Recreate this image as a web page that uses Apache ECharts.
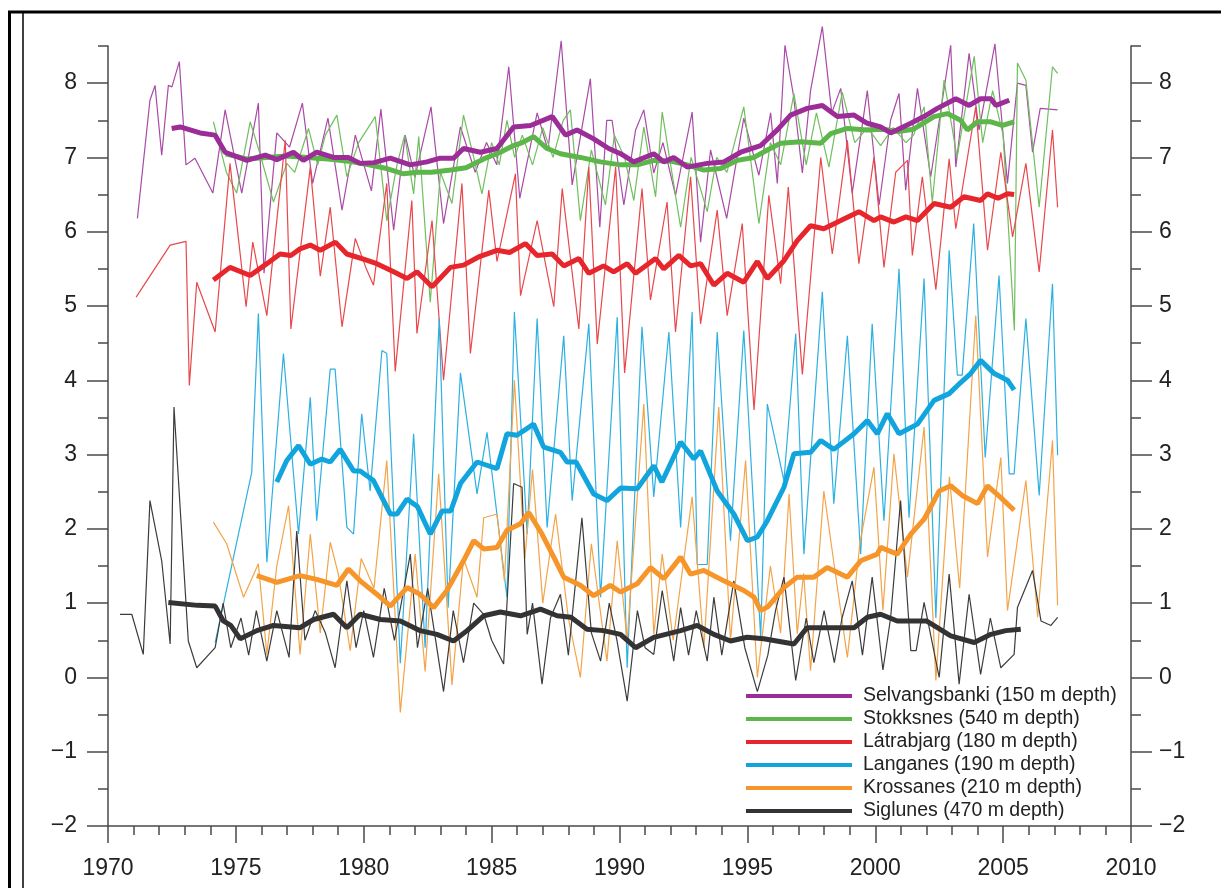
<!DOCTYPE html>
<html>
<head>
<meta charset="utf-8">
<script src="https://cdn.jsdelivr.net/npm/echarts@6/dist/echarts.min.js"></script>
<style>
html,body{margin:0;padding:0;background:#fff;}
#chart{width:1221px;height:888px;}
</style>
</head>
<body>
<div id="chart"></div>
<script>
// ---- tick labels / ranges ----
const xTicks = [1970, 1975, 1980, 1985, 1990, 1995, 2000, 2005, 2010];
const yMajorTicks = [-2, -1, 0, 1, 2, 3, 4, 5, 6, 7, 8];
const yMinorTicks = [-2,-1.5,-1,-0.5,0,0.5,1,1.5,2,2.5,3,3.5,4,4.5,5,5.5,6,6.5,7,7.5,8,8.5];

// ---- series names ----
const names = [
  'Selvangsbanki (150 m depth)',
  'Stokksnes (540 m depth)',
  'Látrabjarg (180 m depth)',
  'Langanes (190 m depth)',
  'Krossanes (210 m depth)',
  'Siglunes (470 m depth)'
];

// ---- Selvangsbanki ----
const selvThin = [[1971.15,6.18],[1971.64,7.77],[1971.84,7.97],[1972.1,7.03],[1972.36,7.97],[1972.5,7.95],[1972.79,8.29],[1973.05,6.9],[1973.4,6.99],[1974.1,6.52],[1974.58,7.64],[1975.23,6.52],[1975.88,7.73],[1976.1,5.44],[1976.6,7.33],[1977.1,7.14],[1977.6,7.73],[1978.0,6.65],[1978.6,7.53],[1979.15,6.29],[1979.67,7.3],[1980.3,6.55],[1980.67,7.65],[1981.17,6.02],[1981.62,7.3],[1982.0,6.73],[1982.63,7.68],[1983.12,6.11],[1983.78,7.41],[1984.36,6.8],[1984.8,7.2],[1985.2,6.9],[1985.67,8.22],[1986.1,6.45],[1986.78,7.6],[1987.2,7.1],[1987.72,8.57],[1988.15,6.63],[1988.86,8.06],[1989.23,6.06],[1989.5,7.5],[1989.71,7.5],[1990.17,6.36],[1990.63,7.37],[1990.95,7.64],[1991.34,6.79],[1991.7,7.2],[1992.19,6.49],[1992.84,7.61],[1993.17,5.86],[1993.56,7.1],[1994.19,6.18],[1994.86,7.53],[1995.45,6.76],[1995.91,7.6],[1996.17,6.65],[1996.47,8.51],[1996.8,7.84],[1997.15,6.79],[1997.47,7.9],[1997.93,8.76],[1998.3,7.6],[1998.65,7.93],[1999.1,6.52],[1999.69,7.9],[2000.15,6.36],[2000.6,7.5],[2000.93,7.86],[2001.19,6.56],[2001.65,7.93],[2002.17,6.74],[2002.95,8.51],[2003.15,6.87],[2003.67,8.4],[2004.06,7.37],[2004.68,8.53],[2005.17,6.65],[2005.56,8.0],[2005.89,7.97],[2006.15,7.07],[2006.45,7.66],[2007.13,7.64]];
const selvSmooth = [[1972.49,7.39],[1972.82,7.41],[1973.6,7.33],[1974.19,7.3],[1974.58,7.07],[1975.43,6.96],[1976.15,7.03],[1976.6,6.97],[1977.25,7.07],[1977.64,6.96],[1978.16,7.07],[1978.82,7.0],[1979.4,7.0],[1979.86,6.92],[1980.4,6.93],[1981.04,6.99],[1981.82,6.9],[1982.47,6.94],[1982.99,6.99],[1983.51,6.99],[1983.9,7.12],[1984.56,7.07],[1985.21,7.12],[1985.86,7.41],[1986.52,7.43],[1987.37,7.55],[1987.89,7.3],[1988.34,7.37],[1988.99,7.25],[1989.58,7.12],[1990.04,7.05],[1990.56,6.94],[1991.34,7.05],[1991.73,6.94],[1992.12,7.0],[1992.65,6.87],[1993.43,6.92],[1994.08,6.94],[1994.74,7.07],[1995.52,7.16],[1996.17,7.37],[1996.69,7.57],[1997.34,7.66],[1997.93,7.7],[1998.52,7.55],[1999.17,7.57],[1999.69,7.46],[2000.21,7.41],[2000.6,7.33],[2001.39,7.46],[2001.9,7.55],[2002.43,7.66],[2003.15,7.79],[2003.67,7.7],[2004.12,7.79],[2004.52,7.79],[2004.72,7.7],[2005.24,7.77]];

// ---- Stokksnes ----
const stokThin = [[1974.12,7.48],[1974.64,6.79],[1975.03,6.52],[1975.56,7.48],[1975.9,7.1],[1976.47,6.4],[1976.99,6.92],[1977.3,6.8],[1977.84,7.39],[1978.2,6.9],[1978.5,7.3],[1978.95,7.57],[1979.34,6.74],[1979.8,7.2],[1980.12,7.37],[1980.45,7.55],[1980.9,6.15],[1981.3,6.9],[1981.6,7.3],[1981.95,6.51],[1982.15,7.28],[1982.6,5.05],[1983.0,6.8],[1983.45,6.38],[1983.9,7.57],[1984.3,7.0],[1984.62,6.51],[1985.0,7.2],[1985.3,6.9],[1985.6,7.5],[1985.9,7.0],[1986.2,7.3],[1986.6,6.9],[1987.0,7.4],[1987.4,7.0],[1987.8,7.5],[1988.08,7.64],[1988.47,6.15],[1988.9,7.1],[1989.45,6.36],[1989.8,7.3],[1990.2,7.0],[1990.56,6.42],[1990.95,7.41],[1991.41,6.47],[1991.67,7.61],[1992.39,6.06],[1992.8,7.0],[1993.43,6.27],[1993.8,7.0],[1994.2,6.8],[1994.86,7.68],[1995.45,6.11],[1995.9,7.2],[1996.3,6.9],[1996.82,7.86],[1997.3,6.9],[1997.7,7.6],[1998.19,6.87],[1998.71,7.88],[1999.2,7.2],[1999.7,7.4],[2000.21,7.16],[2000.7,7.4],[2001.2,7.2],[2001.5,7.3],[2001.91,7.68],[2002.23,6.4],[2002.69,8.04],[2003.2,7.0],[2003.87,8.36],[2004.2,7.2],[2004.59,7.9],[2005.0,7.3],[2005.44,4.67],[2005.56,8.27],[2005.89,8.04],[2006.41,6.33],[2006.93,8.22],[2007.13,8.13]];
const stokSmooth = [[1974.6,7.05],[1975.4,6.98],[1976.2,7.0],[1977.0,7.02],[1977.8,7.0],[1978.6,6.98],[1979.4,6.95],[1980.2,6.9],[1980.9,6.85],[1981.56,6.78],[1982.1,6.8],[1982.65,6.8],[1983.4,6.83],[1984.0,6.86],[1984.69,6.98],[1985.34,7.07],[1985.86,7.16],[1986.2,7.2],[1986.64,7.28],[1987.17,7.12],[1987.69,7.05],[1988.47,7.0],[1989.26,6.94],[1990.04,6.9],[1990.7,6.9],[1991.34,6.96],[1992.0,6.95],[1992.65,6.9],[1993.3,6.83],[1993.95,6.85],[1994.6,6.96],[1995.26,7.0],[1995.78,7.1],[1996.3,7.19],[1997.08,7.21],[1997.87,7.19],[1998.26,7.32],[1998.91,7.39],[1999.69,7.37],[2000.3,7.38],[2000.9,7.35],[2001.5,7.38],[2002.3,7.55],[2002.82,7.59],[2003.34,7.5],[2003.6,7.37],[2004.0,7.48],[2004.52,7.48],[2004.97,7.43],[2005.43,7.48]];

// ---- Látrabjarg ----
const latrThin = [[1971.1,5.12],[1972.43,5.82],[1973.05,5.87],[1973.18,3.93],[1973.47,5.32],[1974.19,4.65],[1974.77,6.92],[1975.4,4.99],[1975.66,5.86],[1976.21,4.87],[1976.93,7.23],[1977.15,4.69],[1977.91,6.87],[1978.3,5.4],[1978.69,6.33],[1979.15,4.72],[1979.67,5.91],[1980.1,5.5],[1980.38,5.28],[1980.9,6.65],[1981.23,4.12],[1981.88,6.42],[1982.08,4.63],[1982.67,6.15],[1983.12,4.0],[1983.84,6.65],[1984.17,4.36],[1984.89,6.56],[1985.21,5.6],[1985.93,6.78],[1986.13,5.14],[1986.78,6.15],[1987.43,4.99],[1987.76,6.58],[1988.41,4.69],[1988.8,6.87],[1989.13,4.49],[1989.85,6.87],[1990.2,4.1],[1990.88,6.58],[1991.21,5.08],[1991.86,6.4],[1992.19,4.65],[1992.78,6.74],[1993.17,4.76],[1993.82,6.29],[1994.21,4.87],[1994.8,6.11],[1995.26,3.6],[1995.84,6.49],[1996.3,5.3],[1996.6,6.6],[1997.15,4.08],[1997.87,7.0],[1998.32,5.7],[1998.91,7.23],[1999.36,5.57],[1999.95,7.0],[2000.34,5.52],[2000.8,6.8],[2001.26,6.96],[2001.45,5.68],[2001.84,6.74],[2002.37,5.22],[2002.89,6.98],[2003.15,6.04],[2003.93,7.68],[2004.39,5.75],[2004.91,7.07],[2005.37,5.93],[2005.89,6.92],[2006.41,5.46],[2006.93,7.37],[2007.13,6.33]];
const latrSmooth = [[1974.12,5.35],[1974.77,5.52],[1975.56,5.41],[1976.21,5.57],[1976.73,5.7],[1977.15,5.68],[1977.51,5.77],[1977.91,5.82],[1978.3,5.75],[1978.89,5.86],[1979.34,5.7],[1979.99,5.63],[1980.51,5.57],[1981.17,5.46],[1981.69,5.37],[1982.08,5.46],[1982.67,5.26],[1983.39,5.52],[1983.9,5.55],[1984.49,5.66],[1985.21,5.75],[1985.7,5.72],[1986.32,5.84],[1986.78,5.68],[1987.37,5.7],[1987.82,5.54],[1988.41,5.64],[1988.8,5.44],[1989.38,5.54],[1989.77,5.46],[1990.3,5.57],[1990.63,5.44],[1991.41,5.64],[1991.73,5.5],[1992.32,5.68],[1992.78,5.54],[1993.17,5.57],[1993.69,5.28],[1994.21,5.44],[1994.86,5.32],[1995.39,5.6],[1995.78,5.37],[1996.43,5.61],[1996.95,5.88],[1997.47,6.08],[1997.99,6.04],[1998.65,6.15],[1999.36,6.27],[1999.95,6.15],[2000.21,6.2],[2000.73,6.13],[2001.2,6.2],[2001.65,6.15],[2002.3,6.38],[2002.95,6.33],[2003.47,6.47],[2004.12,6.42],[2004.39,6.51],[2004.8,6.45],[2005.17,6.51],[2005.43,6.5]];

// ---- Langanes ----
const langThin = [[1974.19,0.47],[1975.62,2.76],[1975.88,4.9],[1976.21,1.55],[1976.86,4.36],[1977.45,1.93],[1977.91,3.77],[1978.16,2.11],[1978.69,4.15],[1978.88,4.15],[1979.34,2.02],[1979.6,1.93],[1979.92,3.55],[1980.25,2.51],[1980.71,4.4],[1980.9,4.36],[1981.43,0.19],[1981.95,3.28],[1982.4,0.4],[1982.95,4.83],[1983.3,0.94],[1983.78,4.1],[1984.43,2.47],[1984.82,3.3],[1985.6,1.08],[1985.89,4.92],[1986.39,1.93],[1986.78,4.83],[1987.17,2.02],[1987.82,4.6],[1988.15,2.38],[1988.8,4.76],[1989.26,1.08],[1989.91,4.85],[1990.3,0.13],[1990.88,4.72],[1991.34,2.43],[1991.93,4.65],[1992.39,2.02],[1992.84,4.92],[1993.04,1.52],[1993.43,1.52],[1993.82,4.65],[1994.34,1.84],[1994.86,4.67],[1995.52,0.54],[1995.78,3.68],[1996.43,2.65],[1996.89,4.63],[1997.21,1.66],[1997.93,5.19],[1998.38,2.34],[1998.91,4.6],[1999.43,1.66],[1999.88,4.76],[2000.34,2.11],[2000.93,5.5],[2001.32,2.15],[2001.91,5.37],[2002.37,0.8],[2002.89,5.75],[2003.21,4.07],[2003.4,4.07],[2003.85,6.11],[2004.3,2.96],[2004.84,5.41],[2005.24,2.74],[2005.43,2.74],[2005.89,4.83],[2006.41,2.45],[2006.93,5.3],[2007.13,2.99]];
const langSmooth = [[1976.6,2.63],[1976.99,2.92],[1977.45,3.12],[1977.91,2.87],[1978.36,2.94],[1978.69,2.9],[1979.08,3.07],[1979.6,2.78],[1979.86,2.78],[1980.38,2.65],[1981.04,2.2],[1981.3,2.2],[1981.69,2.4],[1982.1,2.3],[1982.6,1.93],[1983.06,2.24],[1983.4,2.24],[1983.78,2.61],[1984.43,2.9],[1985.21,2.81],[1985.6,3.28],[1985.99,3.26],[1986.64,3.41],[1987.04,3.1],[1987.69,3.03],[1987.95,2.9],[1988.3,2.9],[1988.99,2.47],[1989.51,2.38],[1990.04,2.55],[1990.69,2.54],[1991.34,2.85],[1991.66,2.63],[1992.39,3.17],[1992.91,2.94],[1993.17,3.05],[1993.82,2.51],[1994.47,2.2],[1995.0,1.84],[1995.39,1.89],[1995.78,2.11],[1996.43,2.56],[1996.82,3.01],[1997.47,3.03],[1997.87,3.19],[1998.38,3.07],[1999.17,3.28],[1999.69,3.46],[2000.08,3.28],[2000.47,3.55],[2000.93,3.28],[2001.65,3.41],[2002.3,3.73],[2002.89,3.82],[2003.34,3.97],[2003.73,4.09],[2004.12,4.27],[2004.65,4.09],[2005.17,4.0],[2005.43,3.87]];

// ---- Krossanes ----
const krosThin = [[1974.12,2.09],[1974.64,1.8],[1975.3,1.08],[1975.88,1.53],[1976.21,0.31],[1976.6,1.5],[1977.06,2.31],[1977.51,0.31],[1977.91,1.93],[1978.3,0.6],[1978.69,1.82],[1979.0,1.4],[1979.47,0.36],[1979.9,1.6],[1980.4,1.2],[1980.9,2.92],[1981.43,-0.47],[1982.01,1.66],[1982.4,0.08],[1982.93,2.74],[1983.45,-0.1],[1983.9,1.6],[1984.43,1.08],[1984.69,2.15],[1985.21,2.2],[1985.5,1.3],[1985.89,4.0],[1986.3,1.6],[1986.6,2.8],[1987.0,1.0],[1987.5,2.2],[1988.0,0.8],[1988.47,0.0],[1988.9,1.8],[1989.51,0.22],[1989.91,1.84],[1990.3,0.5],[1990.95,3.68],[1991.34,0.58],[1991.67,1.66],[1992.1,0.5],[1992.84,2.43],[1993.3,0.4],[1993.88,3.64],[1994.34,0.49],[1994.93,2.92],[1995.39,0.0],[1995.9,1.5],[1996.3,0.6],[1996.63,2.47],[1996.95,0.59],[1997.2,1.4],[1997.47,0.09],[1997.99,2.51],[1998.4,1.5],[1998.91,0.27],[1999.4,1.8],[1999.95,2.83],[2000.3,0.9],[2000.73,3.01],[2001.26,1.35],[2001.91,3.37],[2002.37,-0.04],[2002.9,2.7],[2003.3,1.2],[2003.93,4.87],[2004.39,1.62],[2004.91,2.96],[2005.17,0.9],[2005.89,2.65],[2006.35,0.81],[2006.93,3.19],[2007.13,0.97]];
const krosSmooth = [[1975.82,1.37],[1976.6,1.28],[1977.51,1.37],[1978.16,1.32],[1978.95,1.24],[1979.4,1.46],[1979.86,1.3],[1980.51,1.12],[1981.04,0.96],[1981.69,1.21],[1982.2,1.12],[1982.73,0.94],[1983.25,1.17],[1983.9,1.57],[1984.3,1.84],[1984.69,1.73],[1985.21,1.75],[1985.6,1.98],[1986.13,2.07],[1986.45,2.22],[1986.97,1.93],[1987.43,1.62],[1987.82,1.35],[1988.47,1.24],[1988.99,1.1],[1989.64,1.24],[1990.04,1.15],[1990.69,1.26],[1991.21,1.48],[1991.73,1.33],[1992.39,1.62],[1992.78,1.39],[1993.3,1.44],[1994.08,1.3],[1994.86,1.17],[1995.26,1.08],[1995.52,0.9],[1995.8,0.95],[1996.43,1.21],[1996.95,1.35],[1997.6,1.35],[1998.12,1.48],[1998.91,1.35],[1999.43,1.57],[2000.08,1.66],[2000.21,1.75],[2000.86,1.66],[2001.39,1.93],[2001.91,2.13],[2002.5,2.51],[2002.95,2.58],[2003.4,2.45],[2004.0,2.34],[2004.39,2.58],[2004.91,2.42],[2005.43,2.25]];

// ---- Siglunes ----
const sigThin = [[1970.47,0.85],[1970.93,0.85],[1971.38,0.31],[1971.64,2.38],[1972.1,1.57],[1972.43,0.45],[1972.58,3.64],[1973.14,0.49],[1973.47,0.13],[1974.19,0.4],[1974.5,1.0],[1974.8,0.4],[1975.2,0.8],[1975.5,0.3],[1975.8,0.9],[1976.21,0.22],[1976.6,0.9],[1977.08,0.27],[1977.38,1.97],[1977.7,0.5],[1978.1,0.9],[1978.5,0.6],[1978.88,0.13],[1979.34,1.3],[1979.7,0.4],[1980.0,0.9],[1980.38,0.27],[1980.8,1.2],[1981.2,0.5],[1981.82,1.66],[1982.1,0.4],[1982.5,1.2],[1983.12,-0.19],[1983.5,0.9],[1983.9,0.2],[1984.3,1.0],[1984.69,0.85],[1985.0,0.5],[1985.47,0.18],[1985.86,2.61],[1986.19,2.56],[1986.39,0.58],[1986.6,1.0],[1986.97,-0.09],[1987.3,0.8],[1987.69,1.12],[1988.0,0.3],[1988.53,2.15],[1988.9,0.6],[1989.26,0.22],[1989.6,1.0],[1989.9,0.5],[1990.3,-0.32],[1990.7,0.9],[1991.0,0.4],[1991.34,0.31],[1991.67,1.17],[1992.12,0.22],[1992.39,0.94],[1992.7,0.3],[1993.0,0.9],[1993.43,0.22],[1993.69,1.08],[1994.0,0.3],[1994.47,1.3],[1994.9,0.4],[1995.39,-0.19],[1995.8,0.3],[1996.1,0.9],[1996.43,1.35],[1996.89,-0.04],[1997.3,0.8],[1997.6,0.2],[1998.0,0.9],[1998.4,0.2],[1998.7,0.8],[1999.1,1.3],[1999.5,0.3],[1999.88,1.35],[2000.3,0.1],[2000.6,0.8],[2000.99,2.38],[2001.39,0.36],[2001.6,0.36],[2001.91,1.01],[2002.5,0.0],[2002.89,1.39],[2003.28,-0.09],[2003.67,1.12],[2004.12,0.04],[2004.5,0.8],[2004.91,0.13],[2005.43,0.31],[2005.56,0.94],[2006.15,1.44],[2006.48,0.76],[2006.87,0.7],[2007.13,0.81]];
const sigSmooth = [[1972.36,1.01],[1973.5,0.97],[1974.19,0.96],[1974.51,0.76],[1974.8,0.7],[1975.17,0.52],[1975.82,0.63],[1976.47,0.7],[1977.51,0.67],[1978.04,0.78],[1978.82,0.85],[1979.34,0.67],[1979.86,0.85],[1980.65,0.78],[1981.43,0.76],[1982.21,0.63],[1982.86,0.58],[1983.51,0.49],[1984.04,0.63],[1984.69,0.83],[1985.34,0.88],[1986.13,0.83],[1986.91,0.92],[1987.56,0.83],[1988.1,0.81],[1988.73,0.65],[1989.38,0.63],[1990.04,0.58],[1990.63,0.4],[1991.34,0.54],[1992.39,0.63],[1993.04,0.7],[1993.69,0.58],[1994.34,0.49],[1994.99,0.54],[1995.64,0.52],[1996.82,0.45],[1997.34,0.67],[1998.12,0.67],[1999.17,0.67],[1999.69,0.81],[2000.21,0.85],[2000.86,0.76],[2002.0,0.76],[2002.62,0.63],[2002.95,0.56],[2003.87,0.47],[2004.52,0.58],[2005.1,0.63],[2005.69,0.65]];

// ---- styling ----
const thickColors = ['#9c2d98', '#5db649', '#e6262c', '#12a5dd', '#f5952a', '#333333'];
const thinColors  = ['#a94aa6', '#6fbf5e', '#e8474b', '#2cb0e2', '#f3a449', '#3c3c3c'];
const FONT = '"Liberation Sans", Arial, Helvetica, sans-serif';
const AX = '#4a4a4a';

const thinData = [selvThin, stokThin, latrThin, langThin, krosThin, sigThin];
const smoothData = [selvSmooth, stokSmooth, latrSmooth, langSmooth, krosSmooth, sigSmooth];

const series = [];
thinData.forEach((d, i) => {
  series.push({
    name: names[i] + ' (raw)', type: 'line', data: d, symbol: 'none', clip: false, silent: true,
    lineStyle: { width: 1.2, color: thinColors[i] }, itemStyle: { color: thinColors[i] }, z: 2
  });
});
// thick lines: draw purple last so it sits over green
[1, 2, 3, 4, 5, 0].forEach(i => {
  series.push({
    name: names[i], type: 'line', data: smoothData[i], symbol: 'none', clip: false, silent: true,
    lineStyle: { width: 5, color: thickColors[i] }, itemStyle: { color: thickColors[i] }, z: 3
  });
});

const yLabelFmt = v => Number.isInteger(v) ? String(v).replace('-', '\u2212') : '';

function yAxisMajor(pos, margin) {
  return {
    type: 'value', position: pos, min: -2, max: 8.5, interval: 1, offset: 0,
    axisLine: { show: true, lineStyle: { color: AX, width: 1.5 } },
    axisTick: { show: true, length: 21, customValues: yMajorTicks, lineStyle: { color: AX, width: 1.5 } },
    axisLabel: { show: true, customValues: yMajorTicks, formatter: yLabelFmt, margin: margin, fontSize: 23, color: '#222', fontFamily: FONT },
    splitLine: { show: false }
  };
}
function yAxisMinor(pos) {
  return {
    type: 'value', position: pos, min: -2, max: 8.5, interval: 0.5, offset: 0,
    axisLine: { show: false },
    axisTick: { show: true, length: 10, customValues: yMinorTicks, lineStyle: { color: AX, width: 1.5 } },
    axisLabel: { show: false },
    splitLine: { show: false }
  };
}

const option = {
  animation: false,
  backgroundColor: '#ffffff',
  grid: { left: 108, right: 90, top: 46, bottom: 62, containLabel: false },
  xAxis: {
    type: 'value', min: 1970, max: 2010, interval: 5,
    axisLine: { show: true, onZero: false, lineStyle: { color: AX, width: 1.5 } },
    axisTick: { show: true, length: 17, lineStyle: { color: AX, width: 1.5 } },
    minorTick: { show: true, splitNumber: 5, length: 9, lineStyle: { color: AX, width: 1.5 } },
    axisLabel: { show: true, margin: 31, fontSize: 23, color: '#222', fontFamily: FONT, formatter: v => String(v) },
    splitLine: { show: false }, minorSplitLine: { show: false }
  },
  yAxis: [yAxisMajor('left', 31), yAxisMinor('left'), yAxisMajor('right', 28), yAxisMinor('right')],
  legend: {
    orient: 'vertical', left: 746, top: 686, padding: 0,
    itemWidth: 106, itemHeight: 4, itemGap: 3, icon: 'rect', selectedMode: false,
    data: names,
    textStyle: { fontSize: 19.5, lineHeight: 20, color: '#222', fontFamily: FONT, padding: [0, 0, 0, 6] }
  },
  graphic: [
    { type: 'line', silent: true, shape: { x1: 8, y1: 12, x2: 1221, y2: 12 }, style: { stroke: '#000', lineWidth: 3 } },
    { type: 'line', silent: true, shape: { x1: 9.5, y1: 11, x2: 9.5, y2: 888 }, style: { stroke: '#000', lineWidth: 3 } },
    { type: 'line', silent: true, shape: { x1: 23, y1: 12, x2: 23, y2: 888 }, style: { stroke: '#000', lineWidth: 1.5 } }
  ],
  series: series
};

const chart = echarts.init(document.getElementById('chart'), null, { renderer: 'canvas' });
chart.setOption(option);
</script>
</body>
</html>
